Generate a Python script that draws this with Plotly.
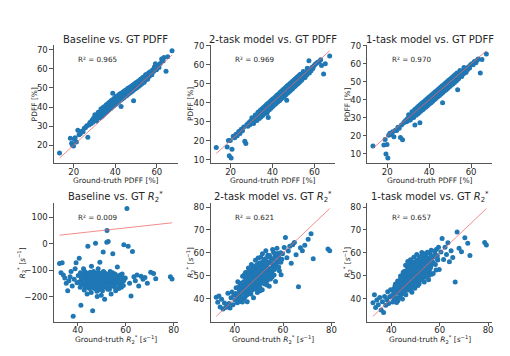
import plotly.graph_objects as go

# ---------------- PDFF data (ground truth shared across the three models) ----------------
gt_pdff = [13.2, 18.4, 19.0, 19.4, 19.9, 20.3, 20.7, 21.3, 22.0, 22.6, 23.2, 23.9, 24.5, 25.1, 25.7, 26.3, 26.8, 27.3, 27.8, 28.3,
           28.8, 29.2, 29.6, 30.0, 30.4, 30.8, 31.2, 31.6, 32.0, 32.4, 32.8, 33.2, 33.6, 34.0, 34.4, 34.8, 35.2, 35.6, 36.0, 36.4,
           36.8, 37.2, 37.6, 38.0, 38.4, 38.8, 39.2, 39.6, 40.0, 40.4, 40.8, 41.2, 41.6, 42.0, 42.4, 42.8, 43.2, 43.6, 44.0, 44.4,
           44.8, 45.2, 45.6, 46.0, 46.4, 46.8, 47.2, 47.6, 48.0, 48.4, 48.8, 49.2, 49.6, 50.0, 50.4, 50.8, 51.2, 51.6, 52.0, 52.4,
           52.8, 53.2, 53.6, 54.0, 54.4, 54.8, 55.2, 55.6, 56.0, 56.4,
           33.0, 33.4, 33.8, 34.2, 34.6, 35.0, 35.4, 35.8, 36.2, 36.6, 37.0, 37.4, 37.8, 38.2, 38.6, 39.0, 39.4, 39.8, 40.2, 40.6,
           41.0, 41.4, 41.8, 42.2, 42.6, 43.0, 43.4, 43.8, 44.2, 44.6, 45.0, 45.4, 45.8, 46.2, 46.6, 47.0, 47.4, 47.8, 48.2, 48.6,
           49.0, 49.4, 49.8, 50.2, 50.6, 51.0, 51.4, 51.8, 52.2, 52.6, 53.0, 53.4, 53.8, 54.2, 54.6,
           56.9, 57.4, 57.9, 58.4, 58.8, 59.3, 59.8, 60.4, 61.0, 61.6, 62.3, 63.0, 63.4, 64.4, 65.2, 67.3,
           30.2, 31.0, 31.8, 32.6, 33.1, 33.7, 34.1, 34.5, 34.9, 35.3, 35.7, 36.1, 36.5, 36.9, 37.3, 37.7, 38.1, 38.5, 38.9, 39.3,
           39.7, 40.1, 40.5, 40.9, 41.3, 41.7, 42.1, 42.5, 42.9, 43.3, 43.7, 44.1, 44.5, 44.9, 45.3, 45.7, 46.1, 46.5, 46.9, 47.3,
           47.7, 48.1, 48.5, 48.9, 49.3, 49.7, 50.1, 50.5, 50.9, 51.3, 51.7, 52.1, 52.5, 52.9, 53.3, 53.9, 54.7, 55.5, 56.6, 57.6]

pdff_baseline = [15.8, 23.6, 21.0, 20.0, 19.5, 23.2, 23.9, 21.6, 27.8, 25.4, 26.0, 27.3, 27.0, 28.9, 29.3, 30.1, 24.1, 30.6, 31.8, 31.2,
                 33.1, 32.0, 34.2, 33.3, 35.0, 33.6, 35.7, 34.4, 36.9, 35.2, 37.4, 36.0, 38.3, 36.8, 39.0, 37.5, 39.6, 38.0, 40.5, 38.7,
                 41.3, 39.4, 42.0, 40.1, 42.7, 47.2, 42.9, 41.4, 44.0, 42.3, 44.9, 43.0, 45.3, 43.6, 45.9, 40.2, 46.4, 44.7, 47.1, 45.5,
                 47.8, 46.2, 48.3, 46.9, 49.0, 47.5, 49.7, 48.2, 50.3, 48.6, 43.3, 49.6, 51.7, 50.1, 52.5, 51.0, 53.4, 51.8, 54.0, 52.3,
                 54.8, 53.0, 55.3, 53.9, 56.2, 54.5, 56.8, 55.0, 57.9, 56.1,
                 37.0, 35.9, 36.8, 38.9, 37.3, 38.2, 40.4, 37.9, 39.5, 41.0, 39.6, 40.3, 42.5, 41.0, 41.6, 43.4, 41.8, 43.0, 44.6, 42.9,
                 43.8, 45.8, 44.0, 44.9, 46.5, 44.8, 45.6, 47.4, 45.9, 46.8, 48.4, 46.7, 47.5, 49.3, 47.6, 48.4, 50.4, 48.7, 49.5, 51.2,
                 49.6, 50.5, 52.3, 50.7, 51.6, 53.0, 52.0, 52.7, 54.6, 52.9, 53.7, 55.6, 54.1, 55.0, 56.9,
                 58.2, 57.0, 59.4, 58.6, 61.0, 62.7, 59.5, 61.8, 60.7, 62.9, 65.2, 64.1, 66.0, 58.8, 66.4, 69.5,
                 35.9, 32.6, 37.3, 34.2, 38.9, 35.1, 39.8, 36.0, 40.3, 36.8, 41.2, 37.6, 41.9, 38.4, 42.6, 39.1, 43.4, 39.9, 44.0, 40.6,
                 44.8, 41.3, 45.5, 42.0, 46.1, 42.8, 46.8, 43.5, 47.2, 44.2, 47.9, 44.9, 48.5, 45.6, 49.1, 46.2, 49.8, 46.9, 50.3, 47.6,
                 50.9, 48.3, 51.6, 49.0, 52.2, 49.6, 52.8, 50.3, 53.4, 50.9, 54.1, 51.6, 54.7, 52.3, 55.3, 53.0, 56.8, 54.6, 58.4, 56.9]

pdff_2task = [16.3, 16.6, 20.1, 12.0, 20.1, 10.8, 15.4, 22.3, 21.5, 23.4, 22.6, 24.8, 23.7, 26.0, 25.2, 27.1, 19.7, 18.5, 28.5, 27.6,
              29.5, 28.4, 30.3, 29.1, 30.9, 29.8, 31.6, 30.5, 32.4, 31.3, 33.1, 32.0, 33.9, 32.8, 34.6, 33.5, 35.3, 34.2, 36.1, 34.7,
              36.9, 35.6, 37.5, 32.2, 38.2, 37.3, 39.0, 38.1, 39.8, 38.9, 40.7, 39.6, 41.4, 40.4, 42.1, 41.1, 43.0, 41.8, 43.7, 42.6,
              44.5, 43.4, 45.3, 44.0, 46.2, 41.3, 47.0, 45.9, 47.8, 46.8, 48.6, 47.5, 49.4, 48.3, 50.2, 49.0, 51.0, 49.9, 51.8, 50.6,
              52.6, 51.4, 53.5, 52.3, 54.2, 53.0, 55.1, 53.8, 55.8, 54.7,
              33.5, 32.1, 33.0, 34.6, 33.2, 34.3, 35.8, 34.5, 35.6, 37.0, 35.8, 34.5, 38.1, 36.9, 37.8, 39.3, 38.0, 39.1, 40.6, 39.2,
              40.3, 41.8, 40.4, 41.5, 43.0, 41.6, 42.6, 44.1, 42.8, 43.9, 45.3, 44.0, 45.1, 46.6, 45.2, 46.2, 47.8, 46.4, 47.5, 49.0,
              47.7, 48.6, 50.1, 48.8, 49.8, 51.3, 50.0, 51.0, 52.5, 51.1, 52.2, 53.8, 52.4, 53.4, 55.0,
              56.5, 62.0, 57.4, 56.8, 58.5, 58.0, 59.4, 60.2, 60.8, 61.3, 61.5, 62.6, 59.5, 55.1, 60.5, 64.6,
              32.0, 29.0, 33.5, 30.6, 34.9, 31.6, 35.8, 32.4, 36.7, 33.2, 37.4, 34.0, 38.2, 34.8, 39.1, 35.6, 39.8, 36.3, 40.6, 37.1,
              41.5, 37.9, 42.2, 38.7, 43.0, 39.5, 43.9, 40.3, 44.6, 41.0, 45.4, 41.9, 46.3, 42.7, 47.0, 43.5, 47.8, 44.3, 48.7, 45.1,
              49.4, 45.9, 50.2, 46.7, 51.0, 47.5, 51.8, 48.3, 52.6, 49.1, 53.4, 49.9, 54.1, 50.7, 55.0, 51.8, 56.4, 53.2, 58.1, 55.6]

pdff_1task = [14.4, 15.0, 18.0, 10.0, 15.3, 7.7, 20.4, 21.5, 20.8, 22.3, 19.6, 23.1, 23.0, 24.8, 24.3, 19.1, 26.1, 17.9, 27.2, 27.9,
              28.6, 27.9, 29.5, 28.6, 30.3, 29.4, 31.0, 30.0, 31.9, 30.8, 32.6, 26.0, 33.4, 32.3, 34.2, 33.1, 34.9, 27.3, 35.8, 34.6,
              36.5, 35.4, 37.3, 36.2, 38.1, 36.9, 38.9, 37.8, 39.7, 38.6, 40.5, 39.3, 41.3, 40.2, 42.0, 40.9, 42.9, 41.7, 43.6, 42.5,
              44.4, 43.3, 45.2, 44.1, 38.4, 45.0, 46.8, 45.8, 47.7, 46.5, 48.5, 47.4, 49.3, 48.2, 50.1, 49.0, 50.9, 49.8, 51.7, 50.6,
              52.5, 51.3, 45.6, 52.2, 54.1, 52.9, 54.9, 53.7, 55.7, 54.6,
              32.9, 31.7, 33.5, 32.8, 34.3, 33.6, 35.1, 34.2, 35.9, 34.9, 36.6, 35.7, 37.5, 36.5, 38.3, 37.2, 39.1, 38.0, 39.9, 38.8,
              40.7, 39.7, 41.5, 40.5, 42.3, 41.2, 43.1, 42.0, 43.9, 42.9, 44.7, 43.6, 45.5, 44.5, 46.3, 45.2, 47.1, 46.0, 47.9, 46.9,
              48.7, 47.6, 49.5, 48.5, 50.3, 49.2, 51.1, 50.0, 51.9, 51.0, 52.7, 51.6, 53.5, 52.4, 54.3,
              56.6, 55.4, 57.6, 56.9, 58.5, 57.8, 59.5, 60.1, 59.6, 61.3, 60.7, 62.2, 62.8, 55.0, 62.5, 65.5,
              31.8, 28.8, 33.4, 30.3, 34.7, 31.5, 35.6, 32.2, 36.5, 33.0, 37.3, 33.8, 38.1, 34.6, 38.9, 35.4, 39.7, 36.1, 40.5, 36.9,
              41.3, 37.7, 42.1, 38.5, 42.9, 39.3, 43.7, 40.1, 44.5, 40.9, 45.3, 41.7, 46.1, 42.5, 46.9, 43.3, 47.7, 44.1, 48.5, 44.9,
              49.3, 45.7, 50.1, 46.5, 50.9, 47.3, 51.7, 48.1, 52.5, 48.9, 53.3, 49.7, 54.1, 50.5, 54.9, 51.6, 56.3, 53.0, 58.0, 55.4]

# ---------------- R2* data (ground truth shared across the three models) ----------------
gt_r2s = [32.4, 33.0, 33.5, 34.0, 34.6, 35.2, 35.8, 36.3, 36.8, 37.2, 37.7, 38.1, 38.5, 38.9, 39.3, 39.7,
          40.2, 40.6, 41.0, 41.3, 41.7, 42.0, 42.4, 42.7, 43.0, 43.3, 43.6, 43.9, 44.2, 44.5, 44.7, 45.0, 45.2, 45.5, 45.7, 46.0,
          46.2, 46.5, 46.7, 46.9, 47.1, 47.4, 47.6, 47.8, 48.0, 48.2, 48.4, 48.6, 48.8, 49.0, 49.2, 49.4, 49.6, 49.8, 50.0, 50.2,
          50.4, 50.6, 50.8, 51.0, 51.2, 51.4, 51.6, 51.8, 52.0, 52.2, 52.5, 52.7, 53.0, 53.2, 53.5, 53.7, 54.0, 54.3, 54.6, 54.9,
          55.2, 55.5, 55.8, 56.1, 56.5, 56.9, 57.3, 57.7, 58.2, 58.7, 59.2, 59.8,
          40.5, 41.1, 41.5, 41.9, 42.2, 42.6, 42.9, 43.2, 43.5, 43.8, 44.1, 44.4, 44.6, 44.9, 45.1, 45.4, 45.6, 45.9, 46.1, 46.4,
          46.6, 46.8, 47.0, 47.3, 47.5, 47.7, 47.9, 48.1, 48.3, 48.5, 48.7, 48.9, 49.1, 49.3, 49.5, 49.7, 49.9, 50.1, 50.3, 50.5,
          50.7, 50.9, 51.1, 51.3, 51.5, 51.7, 51.9, 52.1, 52.4, 52.6, 52.9, 53.1, 53.4, 53.6, 53.9, 54.2, 54.5, 54.8, 55.1, 55.4,
          55.7, 56.0, 56.3, 56.7, 57.1, 57.5, 58.0, 58.5, 59.0, 59.5,
          60.5, 61.0, 61.6, 62.2, 62.8, 63.4, 64.0, 64.7, 65.4, 66.4, 67.2, 68.0, 69.0, 70.4, 71.6, 72.5, 78.6, 79.3,
          41.4, 42.3, 43.1, 43.7, 44.3, 44.8, 45.3, 45.8, 46.3, 46.7, 47.2, 47.6, 48.0, 48.4, 48.8, 49.2, 49.6, 50.0, 50.4, 50.8,
          51.2, 51.6, 52.0, 52.4, 52.8, 53.3, 53.8, 54.4, 55.0, 55.6, 56.4, 57.2, 58.1, 59.1,
          44.0, 45.1, 46.0, 46.9, 47.7, 48.5, 49.3, 50.1, 50.9, 51.7, 52.5, 53.4, 54.4, 55.6]

r2s_baseline = [-75, -110, -72, -118, -130, -150, -178, -140, -125, -105, -160, -275, -135, -95, -72, -148,
                -120, -55, -165, -233, -140, -128, -95, -175, -150, -118, -138, -190, -10, -125, -145, -160, -108, -132, -85, -150,
                -254, -122, -168, -140, -115, 2, -155, -130, -180, -145, -110, -135, -160, -125, -70, -150, -140, -195, -118, -135,
                -155, -31, -128, -145, -210, -112, -138, -165, -122, 50, -148, 8, -132, -172, -105, -140, -160, -125, -38, -150,
                -135, -115, -178, -142, -88, -128, -155, -118, -165, -138, -4, -130,
                -145, -110, -130, -155, -118, -140, -105, -165, -128, -145, -112, -150, -135, -170, -120, -142, -185, -115, -130, -155,
                -105, -145, -125, -170, -138, -118, -150, -200, -128, -95, -148, -122, -170, -135, -112, -158, -140, -120, -178, -132,
                -105, -150, -138, -125, -160, -115, -145, 6, -130, -168, -118, -150, -138, -125, -190, -142, -110, -155, -128, -165,
                -140, -120, -150, -135, -170, -125, -145, -115, -158, -132,
                133, -10, -150, -198, -29, -125, -140, -118, -160, -123, -135, -128, -150, -108, -113, -133, -125, -134,
                -150, -135, -145, -125, -160, -138, -150, -128, -143, -155, -132, -148, -122, -140, -165, -130, -152, -138, -125, -147,
                -160, -135, -120, -150, -142, -128, -155, -137, -118, -148, -130, -145, -125, -140,
                -165, -118, -130, -160, -112, -175, -122, -168, -108, -158, -172, -115, -128, -148]

r2s_2task = [40.7, 38.5, 41.2, 36.5, 39.8, 35.6, 38.2, 36.2, 36.9, 42.5, 38.0, 36.0, 40.5, 43.0, 37.4, 41.6,
             39.5, 44.8, 41.2, 47.5, 40.1, 43.6, 38.9, 46.2, 42.5, 49.8, 44.1, 40.2, 47.0, 51.5, 43.4, 45.9, 38.7, 48.6, 53.4, 44.0,
             46.9, 50.2, 42.1, 55.0, 47.8, 45.3, 51.6, 40.5, 49.0, 53.0, 46.4, 56.8, 44.5, 50.7, 48.2, 42.8, 52.5, 47.1, 55.4, 49.6,
             45.2, 51.8, 58.1, 47.7, 53.6, 44.0, 50.3, 56.2, 48.9, 52.2, 46.5, 57.5, 50.9, 54.8, 48.0, 59.0, 52.6, 45.5, 55.9, 51.1,
             57.6, 49.5, 54.0, 60.2, 52.8, 47.6, 56.3, 59.8, 53.9, 57.0, 50.5, 59.6,
             42.3, 38.3, 44.9, 41.5, 46.8, 40.7, 44.4, 38.6, 46.9, 42.9, 45.7, 41.0, 49.0, 44.1, 51.4, 42.4, 47.2, 49.9, 45.1, 52.7,
             48.0, 43.7, 50.6, 46.1, 54.2, 48.8, 44.2, 51.9, 47.3, 53.8, 49.4, 45.8, 54.7, 50.0, 46.2, 57.8, 51.2, 48.4, 53.4, 43.5,
             55.7, 49.8, 52.7, 46.9, 59.6, 51.4, 54.6, 48.2, 56.6, 50.1, 61.0, 53.1, 46.0, 56.0, 50.0, 58.3, 53.2, 48.6, 56.8, 52.0,
             61.5, 55.0, 50.4, 58.7, 54.4, 62.0, 56.1, 52.3, 60.1, 57.3,
             62.4, 66.7, 57.9, 60.8, 62.9, 55.5, 63.6, 64.5, 59.2, 45.3, 62.3, 61.0, 63.3, 66.0, 68.4, 57.5, 61.7, 61.0,
             42.0, 46.0, 43.4, 47.5, 44.4, 48.6, 45.7, 49.8, 46.5, 50.4, 47.2, 51.1, 46.4, 52.0, 48.5, 50.6, 46.9, 52.8, 48.6, 53.3,
             49.2, 54.0, 50.8, 47.7, 55.1, 51.5, 56.0, 49.8, 55.6, 52.7, 57.3, 54.2, 58.4, 56.0,
             50.5, 41.8, 51.9, 43.6, 53.0, 45.2, 54.8, 44.9, 55.3, 47.0, 57.1, 49.0, 58.9, 50.6]

r2s_1task = [38.3, 41.8, 36.2, 39.5, 37.4, 40.6, 35.1, 38.8, 34.1, 41.0, 37.2, 39.6, 43.1, 38.0, 40.9, 44.0,
             41.5, 38.6, 44.3, 42.0, 46.5, 40.4, 43.8, 39.2, 47.4, 44.6, 41.3, 48.9, 45.0, 42.2, 50.3, 46.8, 43.5, 52.0, 47.2, 41.8,
             49.5, 45.4, 53.8, 48.1, 43.9, 51.2, 46.6, 55.1, 49.3, 44.8, 52.4, 47.5, 54.0, 50.6, 45.7, 55.8, 48.8, 52.9, 46.3, 50.9,
             56.5, 49.0, 53.5, 45.8, 57.2, 51.3, 47.9, 54.3, 50.0, 58.4, 52.6, 48.5, 55.6, 51.7, 59.0, 53.9, 49.4, 56.8, 52.1, 60.3,
             54.7, 50.2, 57.7, 53.3, 61.2, 55.5, 51.0, 58.6, 55.0, 61.6, 56.9, 52.8,
             43.6, 40.0, 45.6, 43.0, 38.4, 47.8, 42.6, 45.9, 40.8, 50.0, 44.3, 47.7, 39.9, 51.6, 45.3, 48.7, 42.7, 54.6, 47.0, 50.8,
             44.1, 56.3, 48.6, 52.8, 45.0, 50.4, 57.0, 47.0, 53.1, 42.9, 50.2, 55.0, 47.8, 58.1, 51.8, 44.6, 54.4, 49.5, 52.0, 59.3,
             47.2, 55.2, 50.6, 53.8, 46.6, 57.9, 52.3, 55.9, 49.1, 60.2, 53.4, 50.8, 57.0, 47.4, 55.3, 59.6, 51.5, 57.9, 53.0, 48.3,
             56.2, 59.9, 54.1, 50.7, 58.0, 55.4, 60.8, 52.6, 58.8, 62.5,
             60.4, 66.3, 57.1, 62.5, 59.3, 64.4, 56.2, 61.0, 58.0, 47.4, 69.1, 62.0, 60.5, 66.6, 64.2, 58.9, 64.5, 63.5,
             43.0, 45.3, 42.9, 48.0, 45.2, 49.5, 46.4, 50.7, 47.0, 44.7, 51.8, 48.6, 53.0, 47.2, 51.5, 49.8, 54.2, 48.5, 52.7, 55.6,
             50.3, 53.6, 51.1, 56.8, 49.9, 54.9, 52.4, 57.6, 55.0, 51.9, 58.5, 56.0, 59.4, 57.4,
             49.0, 43.8, 52.0, 44.5, 54.0, 46.4, 55.8, 46.1, 56.5, 48.3, 58.2, 50.2, 59.8, 52.0]

R2S = "<i>R</i><sub>2</sub><sup>*</sup>"
INV_S = "[<i>s</i><sup>−1</sup>]"
titles = ["Baseline vs. GT PDFF", "2-task model vs. GT PDFF", "1-task model vs. GT PDFF",
          "Baseline vs. GT " + R2S, "2-task model vs. GT " + R2S, "1-task model vs. GT " + R2S]
r2_labels = ["R² = 0.965", "R² = 0.969", "R² = 0.970", "R² = 0.009", "R² = 0.621", "R² = 0.657"]
x_labels = ["Ground-truth PDFF [%]"] * 3 + ["Ground-truth " + R2S + " " + INV_S] * 3
y_labels = ["PDFF [%]"] * 3 + [R2S + " " + INV_S] * 3
y_dticks = [10, 10, 10, 100, 10, 10]
x_dticks = [20, 20, 20, 20, 20, 20]

panels = [(gt_pdff, pdff_baseline), (gt_pdff, pdff_2task), (gt_pdff, pdff_1task),
          (gt_r2s, r2s_baseline), (gt_r2s, r2s_2task), (gt_r2s, r2s_1task)]

W, H = 510, 356
col_px = [(46, 170), (203, 328), (360, 485)]
row_px = [(33, 153), (193.5, 314)]
title_y = [27, 187]
xlabel_y = [170, 332]
ylabel_x = [26, 183, 340, 14, 183, 340]

FONT = "DejaVu Sans"
TXT = "#262626"
AXC = "#555555"

fig = go.Figure()
annotations = []
layout_axes = {}

for i, (gx, gy) in enumerate(panels):
    r, c = divmod(i, 3)
    n = i + 1
    xa = "x" if n == 1 else f"x{n}"
    ya = "y" if n == 1 else f"y{n}"
    fig.add_trace(go.Scatter(x=gx, y=gy, mode="markers", xaxis=xa, yaxis=ya,
                             marker=dict(color="#1f77b4", size=5, line=dict(width=0)),
                             showlegend=False, hoverinfo="skip"))
    lo, hi = min(gx), max(gx)
    fig.add_trace(go.Scatter(x=[lo, hi], y=[lo, hi], mode="lines", xaxis=xa, yaxis=ya,
                             line=dict(color="rgba(240,100,100,0.75)", width=1),
                             showlegend=False, hoverinfo="skip"))
    xspan = hi - lo
    ymin = min(min(gy), lo)
    ymax = max(max(gy), hi)
    yspan = ymax - ymin
    x0, x1 = col_px[c]
    yt, yb = row_px[r]
    xd = [x0 / W, x1 / W]
    yd = [1 - yb / H, 1 - yt / H]
    common = dict(showline=True, linecolor=AXC, linewidth=1, mirror=False, showgrid=False,
                  zeroline=False, ticks="outside", ticklen=3.5, tickwidth=1, tickcolor=AXC,
                  tickfont=dict(family=FONT, size=8.5, color=TXT))
    layout_axes["xaxis" if n == 1 else f"xaxis{n}"] = dict(
        domain=xd, anchor=ya, range=[lo - 0.05 * xspan, hi + 0.05 * xspan],
        dtick=x_dticks[i], ticklabelstandoff=-3, **common)
    layout_axes["yaxis" if n == 1 else f"yaxis{n}"] = dict(
        domain=yd, anchor=xa, range=[ymin - 0.05 * yspan, ymax + 0.05 * yspan],
        dtick=y_dticks[i], **common)

    xc = (x0 + x1) / 2 / W
    annotations.append(dict(text=titles[i], x=xc, y=1 - title_y[r] / H, xref="paper", yref="paper",
                            xanchor="center", yanchor="middle", showarrow=False,
                            font=dict(family=FONT, size=10, color=TXT)))
    annotations.append(dict(text=x_labels[i], x=xc, y=1 - xlabel_y[r] / H, xref="paper", yref="paper",
                            xanchor="center", yanchor="middle", showarrow=False,
                            font=dict(family=FONT, size=7.5, color=TXT)))
    annotations.append(dict(text=y_labels[i], x=ylabel_x[i] / W, y=1 - (yt + yb) / 2 / H, xref="paper",
                            yref="paper", xanchor="center", yanchor="middle", textangle=-90,
                            showarrow=False, font=dict(family=FONT, size=7.5, color=TXT)))
    annotations.append(dict(text=r2_labels[i], x=0.18, y=0.88, xref=f"{xa} domain",
                            yref=f"{ya} domain", xanchor="left", yanchor="middle", showarrow=False,
                            font=dict(family=FONT, size=7.2, color=TXT)))

fig.update_layout(width=W, height=H, margin=dict(l=0, r=0, t=0, b=0),
                  paper_bgcolor="white", plot_bgcolor="white",
                  annotations=annotations, **layout_axes)

fig.write_html("out.html")
